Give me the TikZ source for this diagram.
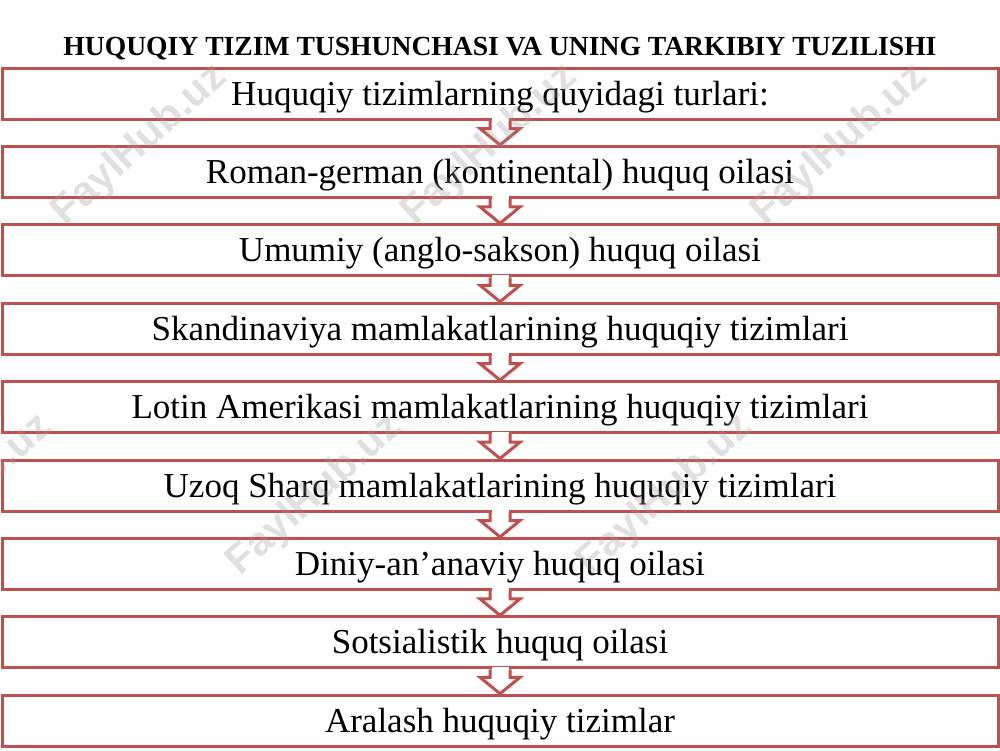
\documentclass[tikz,border=0pt]{standalone}
\usepackage{fontspec}
\setmainfont{Liberation Serif}
\newfontfamily\wmfont{Liberation Sans}
\usetikzlibrary{calc}
\definecolor{boxred}{HTML}{C0504D}
\tikzset{
  x=1pt, y=-1pt,
  boxnode/.style={draw=boxred, line width=3pt, fill=white, minimum width=996pt,
    minimum height=51pt, inner sep=0pt, text height=23pt, text depth=0pt,
    font=\fontsize{35pt}{38pt}\selectfont},
  arrowline/.style={draw=boxred, line width=3pt, line join=miter},
  titletext/.style={font=\fontsize{27.6pt}{30pt}\selectfont\bfseries, inner sep=0pt},
  watermark/.style={font=\wmfont\bfseries\fontsize{41pt}{44pt}\selectfont,
    text=black!40, opacity=0.3, rotate=42, inner sep=0pt}
}
\begin{document}
\begin{tikzpicture}
\useasboundingbox[fill=white] (0,0) rectangle (1000,750);
\node[titletext, anchor=base] (title) at (500,55) {HUQUQIY TIZIM TUSHUNCHASI VA UNING TARKIBIY TUZILISHI};
\foreach \t [count=\i from 0] in {
  {Huquqiy tizimlarning quyidagi turlari:},
  {Roman-german (kontinental) huquq oilasi},
  {Umumiy (anglo-sakson) huquq oilasi},
  {Skandinaviya mamlakatlarining huquqiy tizimlari},
  {Lotin Amerikasi mamlakatlarining huquqiy tizimlari},
  {Uzoq Sharq mamlakatlarining huquqiy tizimlari},
  {Diniy-an’anaviy huquq oilasi},
  {Sotsialistik huquq oilasi},
  {Aralash huquqiy tizimlar}}{
  \node[boxnode] (b\i) at (500,{93.5+78.4*\i}) {\t};
}
\foreach \i [evaluate=\i as \j using int(\i+1)] in {0,...,7}{
  \fill[white] ($(b\i.south)+(-8.5,-2.5)$) rectangle ($(b\i.south)+(8.5,8)$);
  \draw[arrowline] ($(b\i.south)+(-10,0)$) -- ++(0,8) -- ++(-10,0) -- (b\j.north)
    -- ($(b\i.south)+(20,8)$) -- ++(-10,0) -- ++(0,-8);
}
\foreach \cx/\cy [count=\k] in {140/145, 490/145, 840/145, -35/495, 315/495, 665/495}{
  \node[watermark] (wm\k) at (\cx,\cy) {FaylHub.uz};
}
\end{tikzpicture}
\end{document}
